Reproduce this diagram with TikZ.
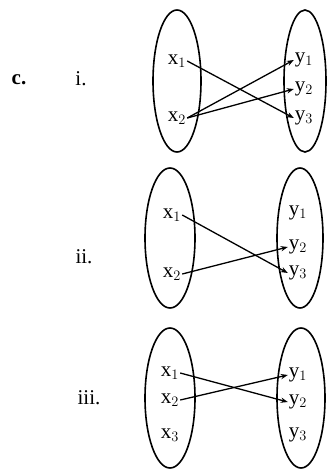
\documentclass[tikz,border=0pt]{standalone}
\usepackage{fontspec}
\setmainfont{Liberation Serif}
\usetikzlibrary{arrows.meta}

\begin{document}
\begin{tikzpicture}[x = 1pt, y = -1pt, font = \fontsize{21}{24}\selectfont,
    every node/.style = {inner sep = 1pt}]
        \useasboundingbox (0,0) rectangle (335,470);
        % headings
        \node[font = \fontsize{21}{24}\selectfont\bfseries](head)at(19,80){c.};
        \node(one)at(81,79){i.};
        \node(two)at(84,257){ii.};
        \node(three)at(89,398){iii.};
        % sets
        \path[draw, line width = 1.6pt](177,81) ellipse [x radius = 24, y radius = 71];
        \path[draw, line width = 1.6pt](305,81) ellipse [x radius = 21, y radius = 71];
        \path[draw, line width = 1.6pt](170,238) ellipse [x radius = 25, y radius = 70];
        \path[draw, line width = 1.6pt](300,238) ellipse [x radius = 23, y radius = 70];
        \path[draw, line width = 1.6pt](170,398) ellipse [x radius = 25, y radius = 70];
        \path[draw, line width = 1.6pt](301,398) ellipse [x radius = 24, y radius = 70];
        % points i
        \node(ix1)at(177,61){x$_1$};
        \node(ix2)at(177,118){x$_2$};
        \node(iy1)at(304,60){y$_1$};
        \node(iy2)at(304,89){y$_2$};
        \node(iy3)at(304,118){y$_3$};
        % points ii
        \node(iix1)at(172,215){x$_1$};
        \node(iix2)at(172,274){x$_2$};
        \node(iiy1)at(298,213){y$_1$};
        \node(iiy2)at(298,247){y$_2$};
        \node(iiy3)at(298,273){y$_3$};
        % points iii
        \node(iiix1)at(170,373){x$_1$};
        \node(iiix2)at(170,400){x$_2$};
        \node(iiix3)at(170,435){x$_3$};
        \node(iiiy1)at(298,375){y$_1$};
        \node(iiiy2)at(298,402){y$_2$};
        \node(iiiy3)at(298,435){y$_3$};
        % maps
        \path[draw, line width = 1.3pt, -{Stealth[length = 7pt]}](ix1.east)to(iy3.west);
        \path[draw, line width = 1.3pt, -{Stealth[length = 7pt]}](ix2.east)to(iy1.west);
        \path[draw, line width = 1.3pt, -{Stealth[length = 7pt]}](ix2.east)to(iy2.west);
        \path[draw, line width = 1.3pt, -{Stealth[length = 7pt]}](iix1.east)to(iiy3.west);
        \path[draw, line width = 1.3pt, -{Stealth[length = 7pt]}](iix2.east)to(iiy2.west);
        \path[draw, line width = 1.3pt, -{Stealth[length = 7pt]}](iiix1.east)to(iiiy2.west);
        \path[draw, line width = 1.3pt, -{Stealth[length = 7pt]}](iiix2.east)to(iiiy1.west);
    \end{tikzpicture}
\end{document}
